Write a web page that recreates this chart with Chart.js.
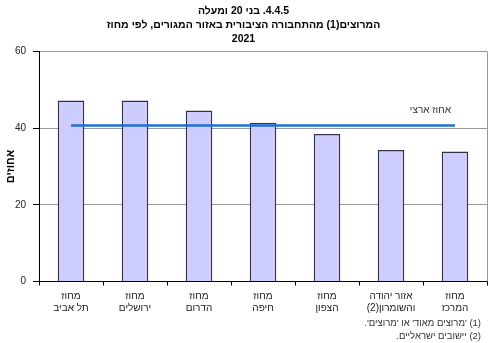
<!DOCTYPE html>
<html lang="he">
<head>
    <meta charset="UTF-8">
    <title>המרוצים מהתחבורה הציבורית לפי מחוז</title>
    <script src="https://cdn.jsdelivr.net/npm/chart.js"></script>
    <style>
        body {
            margin: 0;
            padding: 0;
            background-color: #fff;
        }

        .chart-box {
            width: 490px;
            height: 343px;
        }
    </style>
</head>
<body>
<div class="chart-box">
    <canvas id="satisfactionChart" width="490" height="343" dir="rtl"></canvas>
</div>

<script>
    // נתונים: אחוז המרוצים לפי מחוז
    const districts = [
        ['מחוז', 'תל אביב'],
        ['מחוז', 'ירושלים'],
        ['מחוז', 'הדרום'],
        ['מחוז', 'חיפה'],
        ['מחוז', 'הצפון'],
        ['אזור יהודה', 'והשומרון(2)'],
        ['מחוז', 'המרכז']
    ];
    const percentSatisfied = [47.2, 47.2, 44.6, 41.4, 38.5, 34.3, 33.9];
    const nationalPercent = 40.7;
    const nationalLabel = 'אחוז ארצי';
    const yTicks = [0, 20, 40, 60];

    const titleLines = [
        '4.4.5. בני 20 ומעלה',
        'המרוצים(1) מהתחבורה הציבורית באזור המגורים, לפי מחוז',
        '2021'
    ];
    const footnotes = [
        "(1) 'מרוצים מאוד' או 'מרוצים'.",
        '(2) יישובים ישראליים.'
    ];

    const baseFont = "'Liberation Sans', Arial, sans-serif";

    // כיתוב הקו הארצי, הערות שוליים ומסגרת ימנית
    const extrasPlugin = {
        id: 'extras',
        afterDatasetsDraw(chart) {
            const ctx = chart.ctx;
            const area = chart.chartArea;
            ctx.save();

            ctx.strokeStyle = '#999';
            ctx.lineWidth = 1;
            ctx.beginPath();
            ctx.moveTo(area.right + 0.5, area.top);
            ctx.lineTo(area.right + 0.5, area.bottom);
            ctx.stroke();

            const lineMeta = chart.getDatasetMeta(1);
            const last = lineMeta.data[lineMeta.data.length - 1];
            ctx.font = '10px ' + baseFont;
            ctx.fillStyle = '#333';
            ctx.textAlign = 'right';
            ctx.textBaseline = 'middle';
            ctx.fillText(nationalLabel, last.x - 4, last.y - 15);

            ctx.font = '9.5px ' + baseFont;
            footnotes.forEach((line, i) => {
                ctx.fillText(line, area.right - 6, chart.height - 20 + i * 13);
            });
            ctx.restore();
        }
    };

    const ctx = document.getElementById('satisfactionChart').getContext('2d');
    new Chart(ctx, {
        data: {
            labels: districts,
            datasets: [
                {
                    type: 'bar',
                    data: percentSatisfied,
                    backgroundColor: '#ccccff',
                    borderColor: '#333340',
                    borderWidth: 1.5,
                    barPercentage: 0.415,
                    categoryPercentage: 1,
                    order: 2
                },
                {
                    type: 'line',
                    data: districts.map(() => nationalPercent),
                    borderColor: '#1f6fd1',
                    borderWidth: 2.5,
                    pointRadius: 0,
                    fill: false,
                    order: 1
                }
            ]
        },
        options: {
            responsive: false,
            devicePixelRatio: 1,
            animation: false,
            layout: {
                padding: {left: 0, right: 3, top: 0, bottom: 0}
            },
            plugins: {
                legend: {display: false},
                tooltip: {enabled: false},
                title: {
                    display: true,
                    text: titleLines,
                    color: '#000',
                    font: {family: baseFont, size: 10.5, weight: 'bold', lineHeight: 1.35},
                    padding: {top: 4, bottom: 5}
                }
            },
            scales: {
                x: {
                    grid: {
                        display: true,
                        drawOnChartArea: false,
                        offset: true,
                        tickLength: 4,
                        tickColor: '#000'
                    },
                    border: {color: '#000', width: 1},
                    ticks: {
                        color: '#222',
                        font: {family: baseFont, size: 10, lineHeight: 1.2},
                        padding: 5,
                        maxRotation: 0,
                        autoSkip: false
                    },
                    afterFit(scale) {
                        scale.height = 61.5;
                    }
                },
                y: {
                    min: 0,
                    max: 60,
                    afterBuildTicks(scale) {
                        scale.ticks = yTicks.map(v => ({value: v}));
                    },
                    grid: {
                        color: '#999',
                        tickColor: '#000',
                        tickLength: 6
                    },
                    border: {color: '#000', width: 1},
                    ticks: {
                        color: '#222',
                        font: {family: baseFont, size: 10},
                        padding: 7
                    },
                    title: {
                        display: true,
                        text: 'אחוזים',
                        color: '#000',
                        font: {family: baseFont, size: 11, weight: 'bold'},
                        padding: {top: 4, bottom: 0}
                    },
                    afterFit(scale) {
                        scale.width = 39;
                    }
                }
            }
        },
        plugins: [extrasPlugin]
    });
</script>
</body>
</html>
